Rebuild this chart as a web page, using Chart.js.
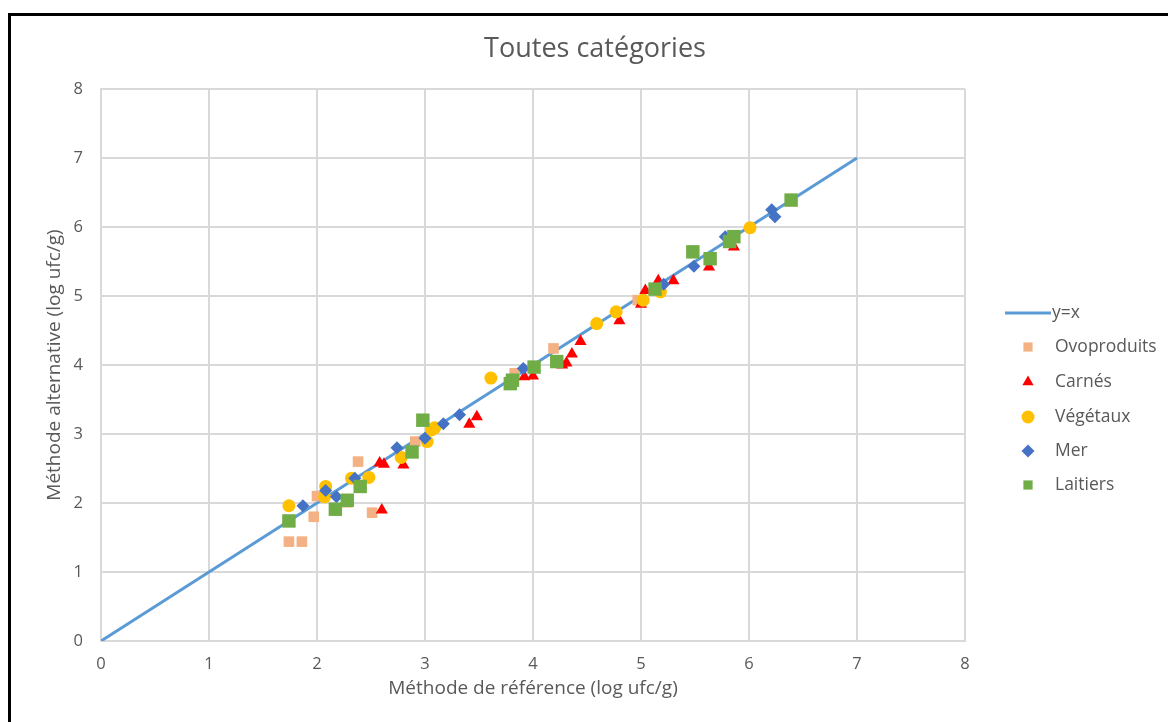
<!DOCTYPE html>
<html>
<head>
<meta charset="utf-8">
<script src="https://cdn.jsdelivr.net/npm/chart.js@4/dist/chart.umd.min.js"></script>
<style>
  html, body { margin: 0; padding: 0; background: #fff; overflow: hidden; }
  #wrap { position: absolute; left: 0; top: 0; width: 1168px; height: 722px; }
  #frame { position: absolute; left: 8px; top: 13px; width: 1300px; height: 900px;
           border-left: 3px solid #000; border-top: 3px solid #000; pointer-events: none; }
</style>
</head>
<body>
<div id="wrap"><canvas id="chart" width="1168" height="722"></canvas></div>
<div id="frame"></div>
<script>
// droite y = x
const lineX = [0, 7];
const lineY = [0, 7];

// Ovoproduits
const ovoX = [1.74, 1.86, 1.97, 2.00, 2.28, 2.38, 2.51, 2.91, 3.83, 4.19, 4.97];
const ovoY = [1.44, 1.44, 1.80, 2.10, 2.01, 2.60, 1.86, 2.89, 3.88, 4.24, 4.94];

// Carnés
const carnesX = [2.60, 2.58, 2.62, 2.80, 3.41, 3.48, 3.92, 4.00, 4.27, 4.31, 4.36, 4.44, 4.80, 5.00, 5.04, 5.16, 5.30, 5.63, 5.86];
const carnesY = [1.90, 2.58, 2.56, 2.55, 3.14, 3.25, 3.83, 3.84, 4.00, 4.03, 4.16, 4.34, 4.64, 4.88, 5.08, 5.22, 5.22, 5.42, 5.71];

// Végétaux
const vegX = [1.74, 2.08, 2.07, 2.32, 2.48, 2.78, 3.02, 3.06, 3.09, 3.61, 4.59, 4.77, 5.02, 5.18, 6.01];
const vegY = [1.96, 2.24, 2.09, 2.36, 2.37, 2.66, 2.89, 3.06, 3.09, 3.81, 4.60, 4.77, 4.94, 5.06, 5.99];

// Mer
const merX = [1.87, 2.08, 2.18, 2.35, 2.74, 3.00, 3.17, 3.32, 3.91, 5.21, 5.49, 5.78, 6.21, 6.24];
const merY = [1.96, 2.18, 2.09, 2.36, 2.80, 2.94, 3.15, 3.28, 3.95, 5.17, 5.43, 5.86, 6.25, 6.15];

// Laitiers
const laitX = [1.74, 2.17, 2.28, 2.40, 2.88, 2.98, 3.79, 3.81, 4.01, 4.22, 5.13, 5.48, 5.64, 5.82, 5.86, 6.39];
const laitY = [1.74, 1.91, 2.04, 2.24, 2.74, 3.20, 3.73, 3.78, 3.97, 4.05, 5.10, 5.64, 5.54, 5.79, 5.86, 6.39];

const axisTicks = [0, 1, 2, 3, 4, 5, 6, 7, 8];
const chartTitle = 'Toutes catégories';

const FONT = '"Open Sans", "Liberation Sans", sans-serif';
const GREY = '#595959';

function pts(xs, ys) {
    return xs.map((x, i) => ({ x: x, y: ys[i] }));
}

function scatterSet(label, xs, ys, style, radius, color, order) {
    return {
        type: 'scatter',
        label: label,
        data: pts(xs, ys),
        pointStyle: style,
        pointRadius: radius,
        pointHoverRadius: radius,
        backgroundColor: color,
        borderColor: color,
        borderWidth: 0,
        order: order
    };
}

// titre + légende dessinés à la main (le titre Excel est centré sur tout le cadre)
const sideLegend = {
    id: 'sideLegend',
    afterDraw(chart) {
        const ctx = chart.ctx;
        ctx.save();
        ctx.fillStyle = GREY;
        ctx.textBaseline = 'middle';
        ctx.textAlign = 'center';
        ctx.font = '27px ' + FONT;
        ctx.fillText(chartTitle, 595, 49);

        const rows = [313, 347, 382, 417, 451, 485];
        ctx.textAlign = 'left';
        ctx.font = '17.5px ' + FONT;
        chart.data.datasets.forEach((ds, i) => {
            const y = rows[i];
            if (ds.type === 'line') {
                ctx.strokeStyle = ds.borderColor;
                ctx.lineWidth = 3;
                ctx.beginPath();
                ctx.moveTo(1005, y);
                ctx.lineTo(1051, y);
                ctx.stroke();
                ctx.fillStyle = GREY;
                ctx.fillText(ds.label, 1052, y);
            } else {
                ctx.fillStyle = ds.backgroundColor;
                ctx.strokeStyle = ds.backgroundColor;
                Chart.helpers.drawPoint(ctx, { pointStyle: ds.pointStyle, radius: 6.5, borderWidth: 0, rotation: 0 }, 1028, y);
                ctx.fillStyle = GREY;
                ctx.fillText(ds.label, 1055, y);
            }
        });
        ctx.restore();
    }
};

new Chart(document.getElementById('chart'), {
    data: {
        datasets: [
            {
                type: 'line',
                label: 'y=x',
                data: pts(lineX, lineY),
                borderColor: '#5B9BD5',
                borderWidth: 3,
                pointRadius: 0,
                fill: false,
                order: 6
            },
            scatterSet('Ovoproduits', ovoX, ovoY, 'rect', 7.5, '#F4B183', 5),
            scatterSet('Carnés', carnesX, carnesY, 'triangle', 7, '#FF0000', 4),
            scatterSet('Végétaux', vegX, vegY, 'circle', 6.5, '#FFC000', 3),
            scatterSet('Mer', merX, merY, 'rectRot', 6.5, '#4472C4', 2),
            scatterSet('Laitiers', laitX, laitY, 'rect', 9.5, '#70AD47', 1)
        ]
    },
    options: {
        responsive: false,
        animation: false,
        layout: { padding: { left: 0, right: 203, top: 89, bottom: 0 } },
        plugins: {
            legend: { display: false },
            tooltip: { enabled: false },
            title: { display: false }
        },
        scales: {
            x: {
                type: 'linear',
                min: 0,
                max: 8,
                afterBuildTicks: s => { s.ticks = axisTicks.map(v => ({ value: v })); },
                afterFit: s => { s.height = 81; },
                grid: { color: '#d9d9d9', lineWidth: 2, drawTicks: false },
                border: { color: '#d9d9d9', width: 2 },
                ticks: { color: GREY, font: { family: FONT, size: 16.5 }, padding: 13 },
                title: {
                    display: true,
                    text: 'Méthode de référence (log ufc/g)',
                    color: GREY,
                    font: { family: FONT, size: 19 },
                    padding: { top: 0, bottom: 22 }
                }
            },
            y: {
                type: 'linear',
                min: 0,
                max: 8,
                afterBuildTicks: s => { s.ticks = axisTicks.map(v => ({ value: v })); },
                afterFit: s => { s.width = 101; },
                grid: { color: '#d9d9d9', lineWidth: 2, drawTicks: false },
                border: { color: '#d9d9d9', width: 2 },
                ticks: { color: GREY, font: { family: FONT, size: 16.5 }, padding: 18 },
                title: {
                    display: true,
                    text: 'Méthode alternative (log ufc/g)',
                    color: GREY,
                    font: { family: FONT, size: 19 },
                    padding: { top: 43, bottom: 0 }
                }
            }
        }
    },
    plugins: [sideLegend]
});
</script>
</body>
</html>
